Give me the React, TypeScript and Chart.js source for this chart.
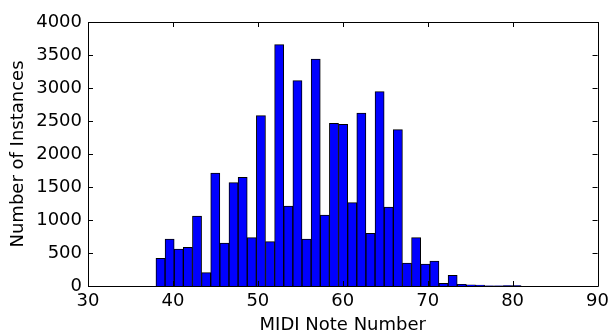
import React, { useEffect, useRef } from "react";
import { Chart, registerables } from "chart.js";

Chart.register(...registerables);

const binStart = 38;
const binWidth = 1.075;
const counts = [
  420, 712, 560, 586, 1060, 202, 1712, 652, 1566, 1646,
  732, 2581, 672, 3657, 1212, 3111, 712, 3439, 1076, 2465,
  2450, 1263, 2621, 798, 2945, 1197, 2369, 348, 732, 333,
  379, 40, 160, 25, 18, 15, 3, 3, 8, 8,
];
const xTicks = [30, 40, 50, 60, 70, 80, 90];
const yTicks = [0, 500, 1000, 1500, 2000, 2500, 3000, 3500, 4000];

const FONT = "'DejaVu Sans', sans-serif";

const frameTicks = {
  id: "frameTicks",
  afterDraw(chart: any) {
    const { ctx, chartArea } = chart;
    const { left, right, top, bottom } = chartArea;
    const xs = chart.scales.x;
    const ys = chart.scales.y;
    const L = 5;
    ctx.save();
    ctx.strokeStyle = "#000";
    ctx.lineWidth = 1;
    ctx.beginPath();
    for (const v of xTicks) {
      const px = Math.round(xs.getPixelForValue(v)) + 0.5;
      ctx.moveTo(px, bottom);
      ctx.lineTo(px, bottom - L);
      ctx.moveTo(px, top);
      ctx.lineTo(px, top + L);
    }
    for (const v of yTicks) {
      const py = Math.round(ys.getPixelForValue(v)) + 0.5;
      ctx.moveTo(left, py);
      ctx.lineTo(left + L, py);
      ctx.moveTo(right, py);
      ctx.lineTo(right - L, py);
    }
    ctx.stroke();
    ctx.beginPath();
    ctx.rect(Math.round(left) + 0.5, Math.round(top) + 0.5, Math.round(right - left), Math.round(bottom - top));
    ctx.stroke();
    ctx.restore();
  },
};

export default function App() {
  const ref = useRef<HTMLCanvasElement | null>(null);
  useEffect(() => {
    document.body.style.margin = "0";
    const data = counts.map((c, i) => ({ x: binStart + (i + 0.5) * binWidth, y: c }));
    const chart = new Chart(ref.current as HTMLCanvasElement, {
      type: "bar",
      data: {
        datasets: [
          {
            data,
            backgroundColor: "#0000ff",
            borderColor: "#000000",
            borderWidth: 1,
            barPercentage: 1,
            categoryPercentage: 1,
          } as any,
        ],
      },
      options: {
        animation: false,
        responsive: false,
        maintainAspectRatio: false,
        layout: { padding: { top: 22, right: 14, left: 0, bottom: 0 } },
        plugins: { legend: { display: false }, tooltip: { enabled: false } },
        scales: {
          x: {
            type: "linear",
            min: 30,
            max: 90,
            offset: false,
            grid: { display: false, offset: false, drawTicks: false },
            border: { display: false },
            afterBuildTicks: (s: any) => {
              s.ticks = xTicks.map((v) => ({ value: v }));
            },
            afterFit: (s: any) => {
              s.height = 48;
            },
            ticks: {
              color: "#000",
              font: { family: FONT, size: 18 },
              padding: 5,
              maxRotation: 0,
              autoSkip: false,
              callback: (v: any) => String(v),
            },
            title: {
              display: true,
              text: "MIDI Note Number",
              color: "#000",
              font: { family: FONT, size: 18 },
              padding: { top: 0, bottom: -2 },
            },
          },
          y: {
            min: 0,
            max: 4000,
            grid: { display: false, drawTicks: false },
            border: { display: false },
            afterBuildTicks: (s: any) => {
              s.ticks = yTicks.map((v) => ({ value: v }));
            },
            afterFit: (s: any) => {
              s.width = 88;
            },
            ticks: {
              color: "#000",
              font: { family: FONT, size: 18 },
              padding: 6,
              autoSkip: false,
              callback: (v: any) => String(v),
            },
            title: {
              display: true,
              text: "Number of Instances",
              color: "#000",
              font: { family: FONT, size: 18 },
              padding: { top: 8, bottom: 0 },
            },
          },
        },
      },
      plugins: [frameTicks],
    });
    return () => chart.destroy();
  }, []);
  return (
    <div style={{ width: 614, height: 334, background: "#fff" }}>
      <canvas ref={ref} width={614} height={334} style={{ display: "block" }} />
    </div>
  );
}
